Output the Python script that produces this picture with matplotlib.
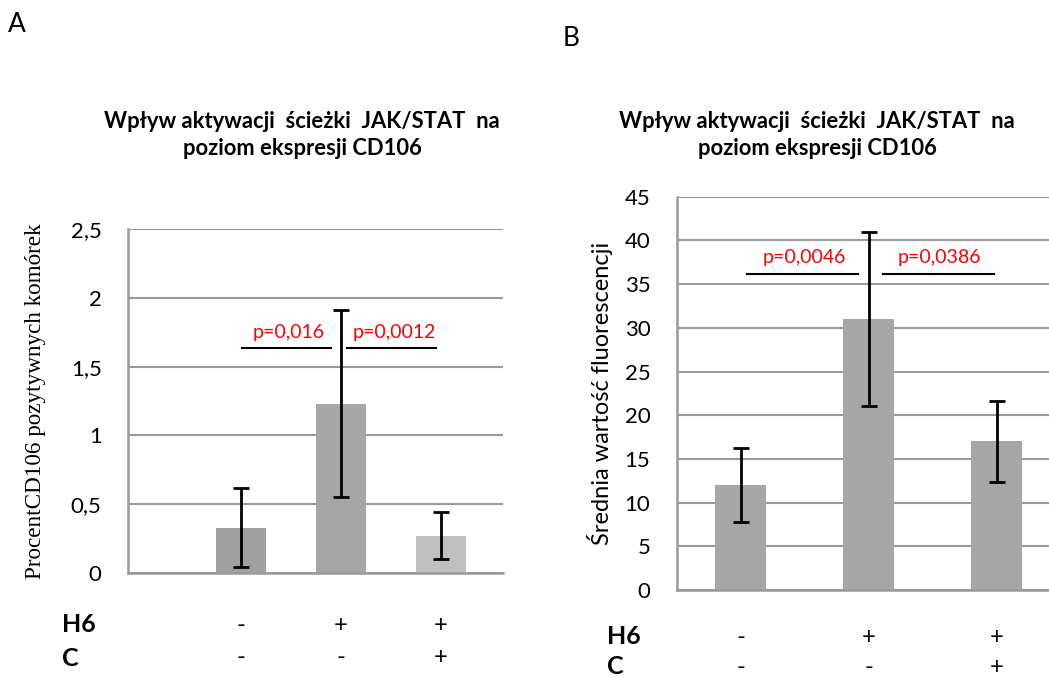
import matplotlib.pyplot as plt
from matplotlib import transforms

# panel A data
a_means = [0.33, 1.23, 0.27]
a_errs = [0.29, 0.68, 0.17]
a_colors = ['#a0a0a0', '#a6a6a6', '#c0c0c0']
a_pvals = ['p=0,016', 'p=0,0012']

# panel B data
b_means = [12, 31, 17]
b_errs = [4.2, 10, 4.65]
b_pvals = ['p=0,0046', 'p=0,0386']

h6_row = ['-', '+', '+']
c_row = ['-', '-', '+']
title = 'Wpływ aktywacji  ścieżki  JAK/STAT  na\npoziom ekspresji CD106'

W, H = 1049, 677
SANS = ['Lato', 'DejaVu Sans']
GRID = '#9a9a9a'


def px_axes(fig, left, right, top, bottom):
    return fig.add_axes([left / W, 1 - bottom / H, (right - left) / W, (bottom - top) / H])


def style(ax, ticks, labels):
    ax.set_yticks(ticks)
    ax.set_yticklabels(labels, fontsize=16, family=SANS)
    ax.tick_params(axis='y', length=0, pad=19)
    ax.set_xticks([])
    ax.yaxis.grid(True, color=GRID, linewidth=1.5)
    ax.set_axisbelow(True)
    for s in ['top', 'right']:
        ax.spines[s].set_visible(False)
    for s in ['left', 'bottom']:
        ax.spines[s].set_color(GRID)
        ax.spines[s].set_linewidth(1.8)


def rows(ax, y1, y2):
    tr = transforms.blended_transform_factory(ax.transData, transforms.IdentityTransform())
    for i, (h, c) in enumerate(zip(h6_row, c_row)):
        ax.text(i + 1, H - y1, h, transform=tr, ha='center', va='center',
                fontsize=17, family=SANS)
        ax.text(i + 1, H - y2, c, transform=tr, ha='center', va='center',
                fontsize=17, family=SANS)


fig = plt.figure(figsize=(10.49, 6.77), dpi=100)

# ---- panel A ----
axA = px_axes(fig, 128, 503, 229, 573)
x = [1, 2, 3]
axA.bar(x, a_means, width=0.5, color=a_colors, zorder=2)
axA.errorbar(x, a_means, yerr=a_errs, fmt='none', ecolor='black', elinewidth=2,
             capsize=6, capthick=2, zorder=3)
axA.set_xlim(-0.125, 3.625)
axA.set_ylim(0, 2.5)
style(axA, [0, 0.5, 1, 1.5, 2, 2.5], ['0', '0,5', '1', '1,5', '2', '2,5'])
axA.set_ylabel('ProcentCD106 pozytywnych komórek', family='Liberation Serif', fontsize=16.7, labelpad=18)
axA.plot([1.015, 1.905], [1.637, 1.637], color='black', lw=1.5)
axA.plot([2.065, 2.955], [1.637, 1.637], color='black', lw=1.5)
axA.text(1.48, 1.745, a_pvals[0], color='red', ha='center', va='center', fontsize=14, family=SANS)
axA.text(2.54, 1.745, a_pvals[1], color='red', ha='center', va='center', fontsize=14, family=SANS)
fig.text(302 / W, 1 - 135 / H, title, ha='center', va='center', fontsize=15.8,
         fontweight='bold', family=SANS, linespacing=1.3)
fig.text(8 / W, 1 - 25 / H, 'A', ha='left', va='center', fontsize=19, family=SANS)
fig.text(62 / W, 1 - 625 / H, 'H6', ha='left', va='center', fontsize=18, fontweight='bold', family=SANS)
fig.text(62 / W, 1 - 658 / H, 'C', ha='left', va='center', fontsize=18, fontweight='bold', family=SANS)
rows(axA, 625, 658)

# ---- panel B ----
axB = px_axes(fig, 676.7, 1060.7, 196.7, 590)
axB.bar(x, b_means, width=0.4, color='#a6a6a6', zorder=2)
axB.errorbar(x, b_means, yerr=b_errs, fmt='none', ecolor='black', elinewidth=2,
             capsize=6, capthick=2, zorder=3)
axB.set_xlim(0.5, 3.5)
axB.set_ylim(0, 45)
style(axB, range(0, 46, 5), [str(v) for v in range(0, 46, 5)])
axB.set_ylabel('Średnia wartość fluorescencji', family=SANS, fontsize=17, labelpad=8)
axB.plot([1.047, 1.914], [36.15, 36.15], color='black', lw=1.5)
axB.plot([2.109, 2.977], [36.15, 36.15], color='black', lw=1.5)
axB.text(1.5, 38.0, b_pvals[0], color='red', ha='center', va='center', fontsize=14, family=SANS)
axB.text(2.55, 38.0, b_pvals[1], color='red', ha='center', va='center', fontsize=14, family=SANS)
fig.text(817 / W, 1 - 135 / H, title, ha='center', va='center', fontsize=15.8,
         fontweight='bold', family=SANS, linespacing=1.3)
fig.text(563 / W, 1 - 39 / H, 'B', ha='left', va='center', fontsize=19, family=SANS)
fig.text(607 / W, 1 - 637 / H, 'H6', ha='left', va='center', fontsize=18, fontweight='bold', family=SANS)
fig.text(607 / W, 1 - 667 / H, 'C', ha='left', va='center', fontsize=18, fontweight='bold', family=SANS)
rows(axB, 637, 667)

fig.savefig('out.png', dpi=100)
